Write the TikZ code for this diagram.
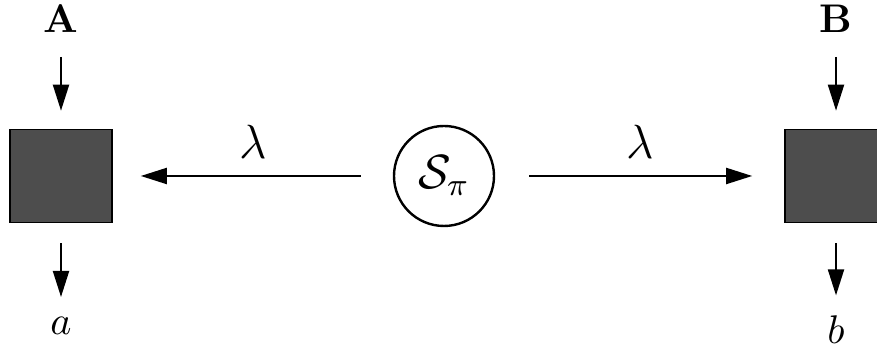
\documentclass[tikz,border=0pt]{standalone}
\usetikzlibrary{arrows.meta}
\definecolor{boxgray}{HTML}{4D4D4D}
\begin{document}
\begin{tikzpicture}[x=0.25pt,y=-0.25pt,
  blackbox/.style={draw=black,line width=0.4pt,fill=boxgray,minimum width=25.5pt,minimum height=23.25pt,inner sep=0pt},
  src/.style={draw=black,line width=0.6pt,circle,minimum size=25pt,inner sep=0pt},
  lbl/.style={inner sep=0pt,anchor=base},
  lam/.style={above=4pt,inner sep=0pt,font=\large},
  conn/.style={line width=0.5pt,-{Triangle[length=6.5pt,width=4pt]}}]
\useasboundingbox (0,0) rectangle (877,349);
\clip (0,0) rectangle (877,349);
\node[blackbox] (boxA) at (61,176) {};
\node[blackbox] (boxB) at (836,176) {};
\node[src] (S) at (444,176) {\large$\mathcal{S}_\pi$};
\node[lbl] (inA) at (61,33) {\textbf{A}};
\node[lbl] (inB) at (836,33) {\textbf{B}};
\node[lbl] (outa) at (61,335) {$a$};
\node[lbl] (outb) at (836,344) {$b$};
\draw[conn,shorten <=5.75pt,shorten >=4.5pt] (inA.south) -- (boxA.north);
\draw[conn,shorten <=5.75pt,shorten >=4.5pt] (inB.south) -- (boxB.north);
\draw[conn,shorten <=5pt,shorten >=5pt] (boxA.south) -- (outa.north);
\draw[conn,shorten <=5pt,shorten >=5pt] (boxB.south) -- (outb.north);
\draw[conn,shorten <=8pt,shorten >=7pt] (S.west) -- node[lam] {$\lambda$} (boxA.east);
\draw[conn,shorten <=8.5pt,shorten >=8pt] (S.east) -- node[lam] {$\lambda$} (boxB.west);
\end{tikzpicture}
\end{document}
